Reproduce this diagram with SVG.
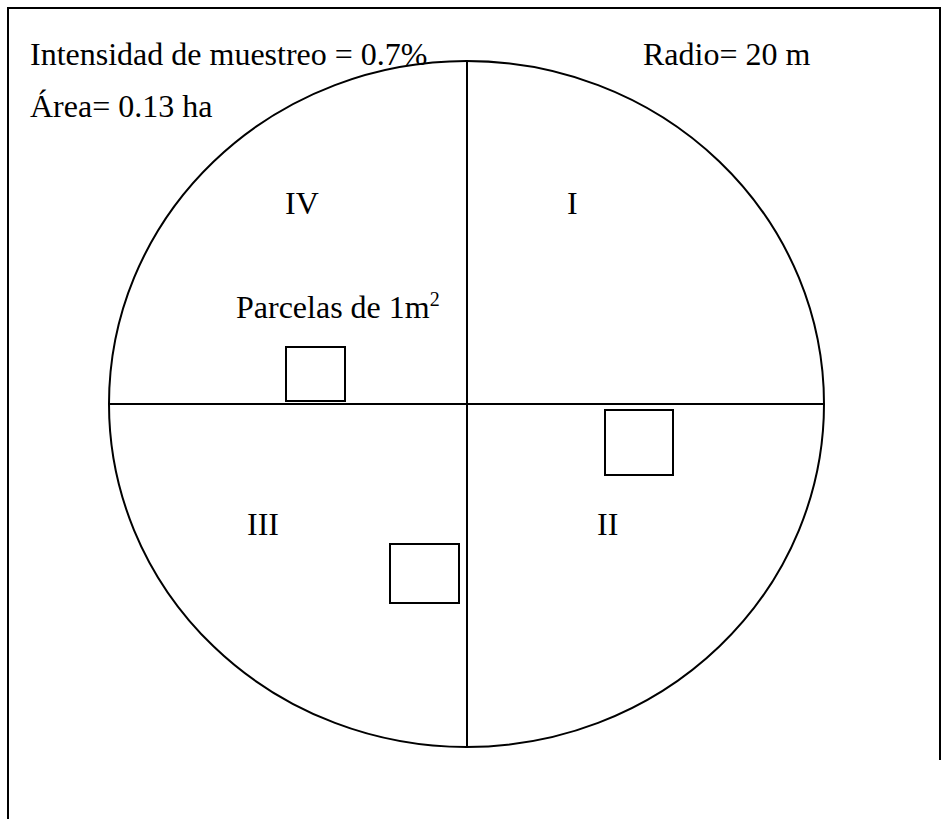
<svg xmlns="http://www.w3.org/2000/svg" width="948" height="819" viewBox="0 0 948 819">
<style>
.t{font-family:"Liberation Serif","Times New Roman",serif;font-size:32px;fill:#000}
.s{fill:none;stroke:#000;stroke-width:2}
</style>
<rect width="948" height="819" fill="#fff"/>
<g id="border"><path class="s" d="M8,819 V8 H940 V760"/></g>
<g id="labels">
<text class="t" x="30" y="65">Intensidad de muestreo = 0.7%</text>
<text class="t" x="30" y="117">Área= 0.13 ha</text>
<text class="t" x="643" y="65">Radio= 20 m</text>
</g>
<g id="circle"><ellipse class="s" cx="466.5" cy="404" rx="357.5" ry="343"/></g>
<g id="connectors">
<line class="s" x1="467" y1="61" x2="467" y2="747"/>
<line class="s" x1="109" y1="404" x2="824" y2="404"/>
</g>
<g id="quadrant-I"><text class="t" x="567" y="214">I</text></g>
<g id="quadrant-II"><text class="t" x="597" y="535">II</text></g>
<g id="quadrant-III"><text class="t" x="247" y="535">III</text></g>
<g id="quadrant-IV"><text class="t" x="285" y="214">IV</text></g>
<g id="parcelas-label"><text class="t" x="236" y="318">Parcelas de 1m<tspan font-size="20" dy="-12">2</tspan></text></g>
<g id="plot-IV"><rect class="s" x="286" y="347" width="59" height="54"/></g>
<g id="plot-III"><rect class="s" x="390" y="544" width="69" height="59"/></g>
<g id="plot-II"><rect class="s" x="605" y="410" width="68" height="65"/></g>
</svg>
